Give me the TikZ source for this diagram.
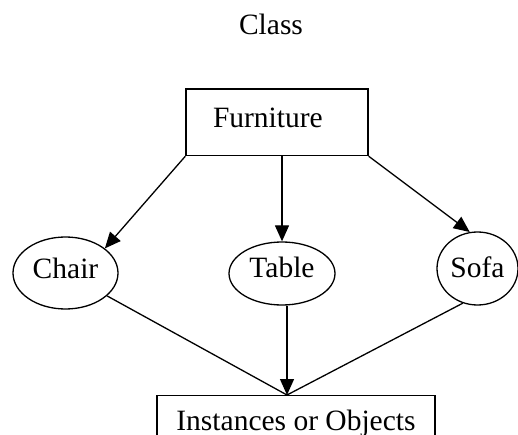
\documentclass[tikz,border=0pt]{standalone}
\usepackage{fontspec}
\setmainfont{Liberation Serif}
\usetikzlibrary{arrows.meta,shapes.geometric}

\tikzset{
  lbl/.style={font=\fontsize{29.5}{35}\selectfont, inner sep=0pt},
  classbox/.style={lbl, draw, line width=1.3pt, rectangle},
  item/.style={lbl, draw, line width=1.3pt, ellipse,
    text height=20pt, text depth=10pt},
  link/.style={line width=1.3pt},
  arrow/.style={link, -{Triangle[length=16pt,width=14pt]}}
}

\begin{document}
\begin{tikzpicture}[x=1pt, y=-1pt]
  \useasboundingbox (0,0) rectangle (518,435);
  \clip (0,0) rectangle (518,435);

  % heading
  \node[lbl] (title) at (271,24.5) {Class};

  % class box
  \node[classbox, minimum height=66.5pt, inner xsep=27pt, text width=128pt,
        align=left, text height=20pt, text depth=8.6pt]
        (furniture) at (277,122.3) {Furniture};

  % the three kinds of furniture
  \node[item, minimum width=105pt, minimum height=72pt] (chair) at (65.5,273) {Chair};
  \node[item, minimum width=106pt, minimum height=63pt, text depth=13pt] (table) at (282,273.5) {Table};
  \node[item, minimum width=81pt, minimum height=73pt, text depth=3pt] (sofa) at (477.5,268.5) {Sofa};

  % objects box, open at the bottom edge of the page
  \node[classbox, anchor=north, minimum width=278pt, inner ysep=14.5pt,
        text height=20pt, text depth=8pt]
        (objects) at (296,395) {Instances or Objects};
  \coordinate (meet) at (287,395);

  % class to kinds
  \draw[arrow] (furniture.south west) -- (chair.32);
  \draw[arrow] (table.north |- furniture.south) -- (table.north);
  \draw[arrow] (furniture.south east) -- (sofa.102);

  % kinds to objects
  \draw[link] (chair) -- (meet);
  \draw[arrow] (meet |- table.south) -- (meet);
  \draw[link] (sofa.247) -- (meet);
\end{tikzpicture}
\end{document}
